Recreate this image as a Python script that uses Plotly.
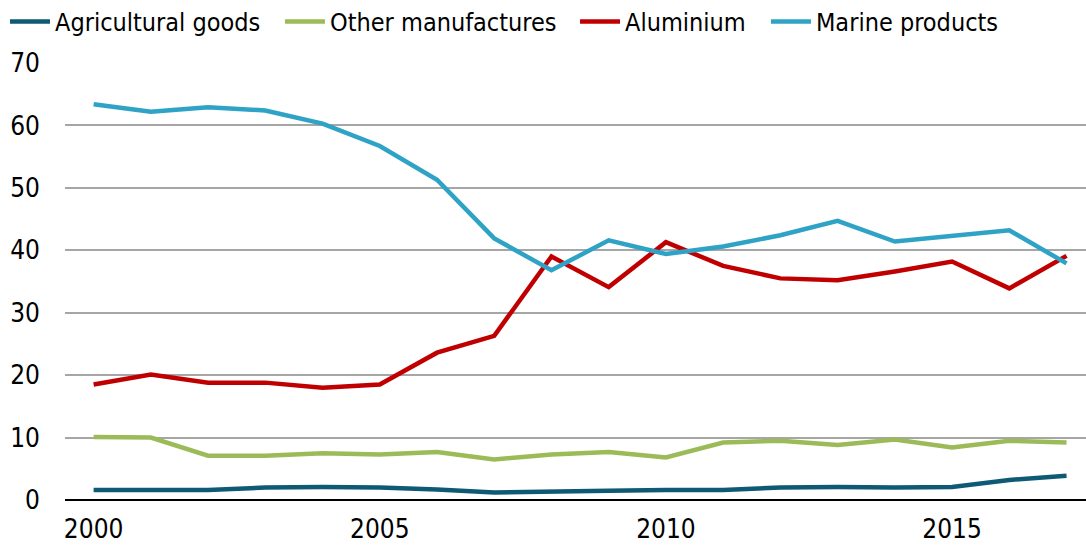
import plotly.graph_objects as go

years = list(range(2000, 2018))

agricultural_goods = [1.6, 1.6, 1.6, 2.0, 2.1, 2.0, 1.7, 1.2, 1.4, 1.5, 1.6, 1.6, 2.0, 2.1, 2.0, 2.1, 3.2, 3.9]
other_manufactures = [10.1, 10.0, 7.1, 7.1, 7.5, 7.3, 7.7, 6.5, 7.3, 7.7, 6.8, 9.2, 9.5, 8.8, 9.7, 8.4, 9.5, 9.2]
aluminium = [18.5, 20.1, 18.8, 18.8, 18.0, 18.5, 23.6, 26.3, 39.0, 34.1, 41.3, 37.5, 35.5, 35.2, 36.6, 38.2, 33.9, 39.1]
marine_products = [63.4, 62.2, 62.9, 62.4, 60.3, 56.7, 51.3, 41.9, 36.8, 41.6, 39.4, 40.6, 42.4, 44.7, 41.4, 42.3, 43.2, 37.9]

series = [
    ("Agricultural goods", agricultural_goods, "#0e5a75"),
    ("Other manufactures", other_manufactures, "#9bbb59"),
    ("Aluminium", aluminium, "#c00000"),
    ("Marine products", marine_products, "#2fa3c6"),
]

x_ticks = [2000, 2005, 2010, 2015]
y_ticks = [0, 10, 20, 30, 40, 50, 60, 70]

# each series gets its own legend box so the entries can be spaced freely
legend_ids = ["legend", "legend2", "legend3", "legend4"]
legend_x = [0.0046, 0.2578, 0.5295, 0.7053]

fig = go.Figure()
for (name, values, color), lid in zip(series, legend_ids):
    fig.add_trace(go.Scatter(
        x=years, y=values, name=name, mode="lines",
        line=dict(color=color, width=4.5), legend=lid,
    ))

font_family = "DejaVu Sans Condensed, DejaVu Sans, Verdana, sans-serif"

legend_layout = {}
for lid, lx in zip(legend_ids, legend_x):
    legend_layout[lid] = dict(
        orientation="h", x=lx, xanchor="left", xref="container",
        y=0.96, yanchor="middle", yref="container",
        font=dict(size=25), itemwidth=40,
        bgcolor="rgba(0,0,0,0)",
    )

fig.update_layout(
    width=1086, height=546,
    margin=dict(l=65, r=0, t=63, b=46, autoexpand=False),
    paper_bgcolor="white", plot_bgcolor="white",
    font=dict(family=font_family, size=22, color="#000000"),
    showlegend=True,
    xaxis=dict(
        range=[1999.5, 2017.34], tickmode="array", tickvals=x_ticks,
        ticktext=[str(v) for v in x_ticks],
        showgrid=False, zeroline=False, showline=False,
        ticks="", ticklabelstandoff=11,
        tickfont=dict(size=26),
    ),
    yaxis=dict(
        range=[0, 70], tickmode="array", tickvals=y_ticks,
        showgrid=True, gridcolor="#a6a6a6", gridwidth=1.5,
        zeroline=True, zerolinecolor="#000000", zerolinewidth=1.5,
        showline=False, ticks="", ticklabelstandoff=24,
        tickfont=dict(size=26),
    ),
    **legend_layout,
)

fig.write_html("out.html")
